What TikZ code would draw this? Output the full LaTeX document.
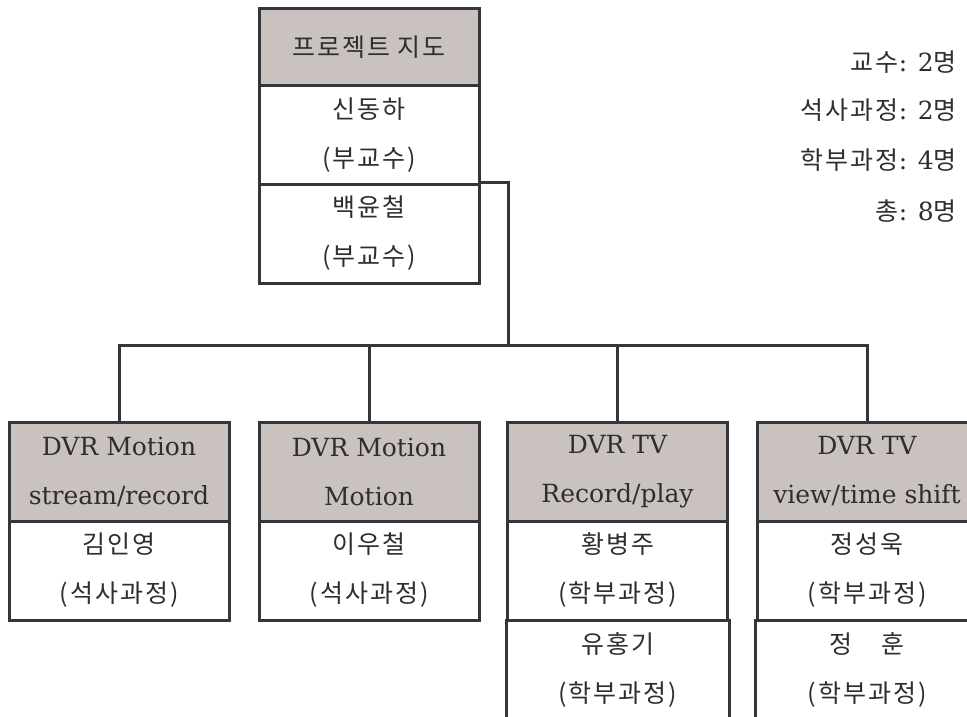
\documentclass[tikz,border=0pt]{standalone}
\usepackage{fontspec}
\setmainfont{DejaVu Serif}
\newfontfamily\kr[LetterSpace=8]{Noto Sans CJK KR}
\definecolor{hdrgray}{HTML}{C9C2BE}
\definecolor{linec}{HTML}{35363A}
\definecolor{txtc}{HTML}{2E2E2E}
\tikzset{
  box/.style={draw=linec, line width=3pt, minimum width=220pt, inner sep=0pt,
    align=center, text=txtc, font=\fontsize{25}{49}\selectfont},
  hdr/.style={box, fill=hdrgray},
  cell/.style={box, fill=white},
  opencell/.style={box, draw=none},
  conn/.style={draw=linec, line width=3pt},
  cnt/.style={anchor=base east, inner sep=0pt, text=txtc, font=\fontsize{25}{28}\selectfont}
}
\newcommand{\K}[1]{{\kr #1}}
\begin{document}
\begin{tikzpicture}[x=1pt,y=-1pt]
\useasboundingbox[fill=white] (0,0) rectangle (967,717);

% top box
\node[hdr, minimum height=77pt] (t0) at (369,47.5) {\K{프로젝트 지도}};
\node[cell, minimum height=98pt] (t1) at (369,135) {\K{신동하}\\\K{(부교수)}};
\node[cell, minimum height=99pt] (t2) at (369,233.5) {\K{백윤철}\\\K{(부교수)}};

% counts
\node[cnt] (n1) at (957,72) {\K{교수}: 2\K{명}};
\node[cnt] (n2) at (957,120) {\K{석사과정}: 2\K{명}};
\node[cnt] (n3) at (957,169) {\K{학부과정}: 4\K{명}};
\node[cnt] (n4) at (957,220) {\K{총}: 8\K{명}};

% bottom boxes
\node[hdr, minimum height=99pt] (b1h) at (119,471.5) {DVR Motion\\stream/record};
\node[cell, minimum height=99pt] (b1c) at (119,570.5) {\K{김인영}\\\K{(석사과정)}};

\node[hdr, minimum height=99pt] (b2h) at (369,471.5) {DVR Motion\\Motion};
\node[cell, minimum height=99pt] (b2c) at (369,570.5) {\K{이우철}\\\K{(석사과정)}};

\node[hdr, minimum height=99pt] (b3h) at (617.5,471.5) {DVR TV\\Record/play};
\node[cell, minimum height=99pt] (b3c) at (617.5,570.5) {\K{황병주}\\\K{(학부과정)}};
\node[opencell, minimum height=99pt] (b3d) at (617.5,669.5) {\K{유홍기}\\\K{(학부과정)}};

\node[hdr, minimum height=99pt] (b4h) at (867,471.5) {DVR TV\\view/time shift};
\node[cell, minimum height=99pt] (b4c) at (867,570.5) {\K{정성욱}\\\K{(학부과정)}};
\node[opencell, minimum height=99pt] (b4d) at (867,669.5) {\K{정}\hspace{30pt}\K{훈}\\\K{(학부과정)}};

\draw[conn] (b3d.north west) -- (b3d.south west);
\draw[conn] (b3d.north east) -- (b3d.south east);
\draw[conn] (b4d.north west) -- (b4d.south west);
\draw[conn] (b4d.north east) -- (b4d.south east);

% connectors
\coordinate (bus) at (508,345);
\draw[conn] (t2.north east) -| (bus);
\draw[conn] (b1h.north) -- (b1h.north |- bus) -- (b4h.north |- bus) -- (b4h.north);
\draw[conn] (b2h.north) -- (b2h.north |- bus);
\draw[conn] (b3h.north) -- (b3h.north |- bus);
\end{tikzpicture}
\end{document}
